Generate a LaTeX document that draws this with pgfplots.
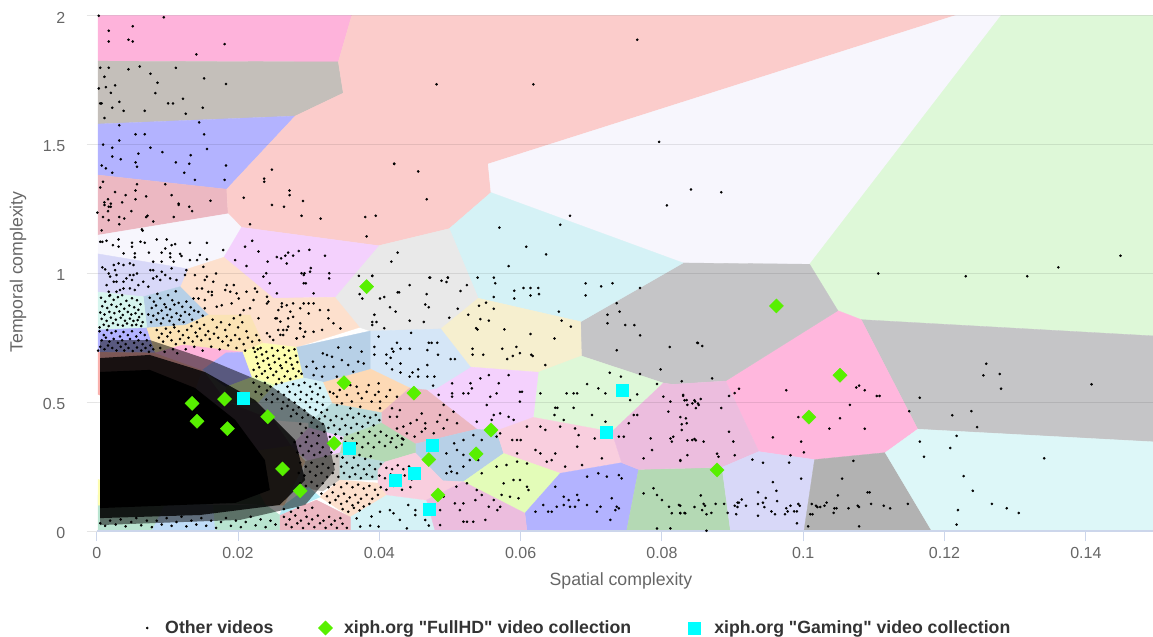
\documentclass[border=0pt]{standalone}
\usepackage{pgfplots}
\pgfplotsset{compat=1.18}
\usepackage{fontspec}
\setmainfont{Liberation Sans}
\newfontfamily\lgf{Liberation Sans}
\definecolor{ca}{HTML}{FEB3DB}\definecolor{cb}{HTML}{C4BFBA}\definecolor{cc}{HTML}{B3B3FF}\definecolor{cd}{HTML}{ECB8C2}
\definecolor{ce}{HTML}{FBCCCB}\definecolor{cf}{HTML}{F7F6FD}\definecolor{cg}{HTML}{DEF8D8}\definecolor{ch}{HTML}{C5C5C7}
\definecolor{ci}{HTML}{FFB7DD}\definecolor{cj}{HTML}{D5F2F6}\definecolor{ck}{HTML}{E9E9E9}\definecolor{cl}{HTML}{F6EFCF}
\definecolor{cm}{HTML}{F4D1FD}\definecolor{cn}{HTML}{D5E6F7}\definecolor{co}{HTML}{FDD9B5}\definecolor{cp}{HTML}{B7D0E7}
\definecolor{cq}{HTML}{F9CEDE}\definecolor{cr}{HTML}{E3FCB8}\definecolor{cs}{HTML}{B4D9B4}\definecolor{ct}{HTML}{ECBDDE}
\definecolor{cu}{HTML}{D8D8F8}\definecolor{cv}{HTML}{B2B2B2}\definecolor{cw}{HTML}{DDF7F8}\definecolor{cx}{HTML}{FDE0CD}
\definecolor{cy}{HTML}{FBE3B5}\definecolor{cz}{HTML}{FDFDB0}\definecolor{dt}{HTML}{B8DADA}\definecolor{dc}{HTML}{B5EDF8}
\definecolor{ds}{HTML}{F9B0AC}\definecolor{dm}{HTML}{D6F5EE}\definecolor{dg}{HTML}{B9E4D0}\definecolor{db}{HTML}{BFDCF8}
\definecolor{ax}{HTML}{CCD6EB}\definecolor{tx}{HTML}{666666}\definecolor{lg}{HTML}{333333}
\definecolor{dia}{HTML}{58F000}\definecolor{sqr}{HTML}{00FFFF}
\newcommand{\reg}[2]{\addplot[fill=#1,draw=#1,line width=.3pt,forget plot] coordinates {#2} --cycle;}
\begin{document}
\begin{tikzpicture}
\useasboundingbox (-96.7bp,-106bp) rectangle (1056.3bp,531bp);
\begin{axis}[at={(0,0)},anchor=south west,scale only axis,width=1056.3bp,height=515.5bp,
 xmin=0,xmax=0.1495,ymin=0,ymax=2,
 axis on top,
 axis x line*=bottom,axis y line*=left,
 y axis line style={draw=none},x axis line style={ax,line width=1.2bp,-},
 xtick={0,0.02,0.04,0.06,0.08,0.1,0.12,0.14},xticklabels={0,0.02,0.04,0.06,0.08,0.1,0.12,0.14},
 ytick={0,0.5,1,1.5,2},yticklabels={0,0.5,1,1.5,2},
 tick align=outside,major tick length=10bp,
 x tick style={ax,line width=1bp},y tick style={black!10,line width=1bp},
 ymajorgrids,y grid style={black,opacity=.09,line width=1bp},
 tick label style={font=\fontsize{16bp}{18bp}\selectfont,text=tx},
 yticklabel style={yshift=-2bp},
 xticklabel shift=2.5bp,yticklabel shift=18bp,
 xlabel={Spatial complexity},ylabel={Temporal complexity},
 label style={font=\fontsize{17.7bp}{19bp}\selectfont,text=tx},
 xlabel style={at={(axis description cs:.4963,0)},anchor=center,yshift=-50bp},
 ylabel style={at={(axis description cs:0,.5024)},anchor=center,yshift=78.7bp},
 legend columns=3,
 legend style={at={(axis description cs:0.0437,0)},anchor=west,yshift=-97bp,draw=none,fill=none,
  font=\fontsize{17.7bp}{19bp}\selectfont\lgf\bfseries,text=lg,/tikz/every even column/.append style={column sep=43bp}},
]
\reg{ca}{(.0002,2)(.0361,2)(.0342,1.820)(.0002,1.823)}
\reg{cb}{(.0002,1.823)(.0342,1.820)(.0349,1.699)(.0281,1.610)(.0002,1.579)}
\reg{cc}{(.0002,1.579)(.0281,1.610)(.0184,1.326)(.0002,1.381)}
\reg{cd}{(.0002,1.381)(.0184,1.326)(.0186,1.231)(.0002,1.148)}
\reg{ce}{(.0361,2)(.1215,2)(.0554,1.424)(.0558,1.313)(.0499,1.173)(.0399,1.107)(.0205,1.178)(.0186,1.231)(.0184,1.326)(.0281,1.610)(.0349,1.699)(.0342,1.820)}
\reg{cf}{(.1215,2)(.1280,2)(.1009,1.035)(.0830,1.040)(.0558,1.313)(.0554,1.424)}
\reg{cg}{(.1280,2)(.1495,2)(.1495,.757)(.1082,.820)(.1049,.855)(.1009,1.035)}
\reg{ch}{(.1082,.820)(.1495,.757)(.1495,.346)(.1162,.395)}
\reg{ci}{(.1049,.855)(.1082,.820)(.1162,.395)(.1116,.304)(.1016,.277)(.0937,.308)(.0890,.582)}
\reg{ch}{(.0830,1.040)(.1009,1.035)(.1049,.855)(.0890,.582)(.0815,.569)(.0802,.574)(.0686,.679)(.0685,.812)}
\reg{cj}{(.0499,1.173)(.0558,1.313)(.0830,1.040)(.0685,.812)(.0540,.903)}
\reg{ck}{(.0399,1.107)(.0499,1.173)(.0540,.903)(.0487,.784)(.0387,.776)(.0372,.790)(.0337,.907)}
\reg{cl}{(.0540,.903)(.0685,.812)(.0686,.679)(.0625,.616)(.0529,.636)(.0487,.784)}
\reg{cg}{(.0625,.616)(.0686,.679)(.0802,.574)(.0729,.385)(.0618,.441)}
\reg{cm}{(.0529,.636)(.0625,.616)(.0618,.441)(.0566,.389)(.0538,.395)(.0467,.547)(.0481,.554)}
\reg{cn}{(.0387,.776)(.0487,.784)(.0529,.636)(.0481,.554)(.0467,.547)(.0443,.555)(.0387,.629)}
\reg{co}{(.0320,.578)(.0387,.629)(.0443,.555)(.0403,.459)(.0333,.495)}
\reg{cd}{(.0443,.555)(.0467,.547)(.0538,.395)(.0451,.338)(.0403,.419)(.0403,.459)}
\reg{cp}{(.0451,.338)(.0538,.395)(.0566,.389)(.0576,.301)(.0519,.191)(.0490,.195)(.0451,.303)}
\reg{cq}{(.0566,.389)(.0618,.441)(.0729,.385)(.0743,.265)(.0656,.224)(.0576,.301)}
\reg{cr}{(.0576,.301)(.0656,.224)(.0606,.069)(.0519,.191)}
\reg{cc}{(.0656,.224)(.0743,.265)(.0767,.239)(.0750,0)(.0609,0)(.0606,.069)}
\reg{cs}{(.0767,.239)(.0885,.247)(.0897,0)(.0750,0)}
\reg{ct}{(.0729,.385)(.0802,.574)(.0815,.569)(.0890,.582)(.0937,.308)(.0885,.247)(.0767,.239)(.0743,.265)}
\reg{cu}{(.0885,.247)(.0937,.308)(.1016,.277)(.1001,0)(.0897,0)}
\reg{cv}{(.1016,.277)(.1116,.304)(.1182,0)(.1001,0)}
\reg{cw}{(.1116,.304)(.1162,.395)(.1495,.346)(.1495,0)(.1182,0)}
\reg{cf}{(.0002,1.148)(.0186,1.231)(.0205,1.178)(.0180,1.062)(.0129,1.017)(.0002,1.075)}
\reg{cm}{(.0205,1.178)(.0399,1.107)(.0337,.907)(.0250,.903)(.0180,1.062)}
\reg{cx}{(.0118,.948)(.0129,1.017)(.0180,1.062)(.0250,.903)(.0337,.907)(.0372,.790)(.0283,.713)(.0235,.729)(.0217,.838)(.0158,.838)}
\reg{cu}{(.0002,1.075)(.0129,1.017)(.0118,.948)(.0066,.909)(.0002,.927)}
\reg{cp}{(.0066,.909)(.0118,.948)(.0158,.838)(.0126,.799)(.0071,.788)}
\reg{dm}{(.0002,.927)(.0066,.909)(.0071,.788)(.0002,.780)}
\reg{cc}{(.0002,.780)(.0071,.788)(.0083,.691)(.0002,.694)}
\reg{cy}{(.0071,.788)(.0126,.799)(.0158,.838)(.0217,.838)(.0235,.729)(.0207,.694)(.0122,.722)(.0083,.691)}
\reg{ds}{(.0002,.694)(.0083,.691)(.0150,.625)(.0120,.40)(.0002,.53)}
\reg{ca}{(.0083,.691)(.0122,.722)(.0207,.694)(.0183,.691)(.0150,.625)}
\reg{cc}{(.0150,.625)(.0183,.691)(.0207,.694)(.0220,.597)(.0183,.559)}
\reg{cz}{(.0207,.694)(.0235,.729)(.0283,.713)(.0293,.594)(.0252,.566)(.0220,.597)}
\reg{cp}{(.0283,.713)(.0387,.776)(.0387,.629)(.0320,.578)(.0293,.594)}
\reg{cr}{(.0183,.559)(.0220,.597)(.0252,.566)(.0230,.50)(.0184,.50)}
\reg{cj}{(.0252,.566)(.0293,.594)(.0320,.578)(.0333,.495)(.0300,.42)(.0250,.43)(.0230,.50)}
\reg{dt}{(.0333,.495)(.0403,.459)(.0403,.419)(.0349,.365)(.0300,.40)(.0300,.42)}
\reg{cs}{(.0349,.365)(.0403,.419)(.0451,.338)(.0451,.303)(.0408,.268)(.0344,.303)}
\reg{cm}{(.0300,.40)(.0349,.365)(.0344,.303)(.0300,.27)(.0275,.33)}
\reg{cb}{(.0295,.27)(.0344,.303)(.0344,.198)(.0320,.155)(.0290,.17)}
\reg{dt}{(.0344,.303)(.0408,.268)(.0398,.198)(.0344,.198)}
\reg{cx}{(.0316,.132)(.0344,.198)(.0398,.186)(.0411,.140)(.0359,.054)}
\reg{cj}{(.0359,.054)(.0411,.140)(.0467,.120)(.0479,0)(.0359,0)}
\reg{cd}{(.0259,.062)(.0311,.120)(.0359,.054)(.0359,0)(.0259,0)}
\reg{cq}{(.0398,.237)(.0408,.268)(.0451,.303)(.0490,.195)(.0519,.191)(.0467,.120)(.0411,.140)(.0398,.186)}
\reg{ct}{(.0467,.120)(.0519,.191)(.0606,.069)(.0609,0)(.0479,0)}
\reg{dc}{(.0265,.10)(.0300,.17)(.0316,.132)(.0259,.062)}
\reg{ct}{(.0120,.40)(.0150,.625)(.0184,.50)(.0250,.43)(.0275,.33)(.0200,.30)}
\reg{cs}{(.0120,.40)(.0200,.30)(.0240,.10)(.0100,.12)}
\reg{co}{(.0200,.30)(.0275,.33)(.0295,.27)(.0265,.10)(.0240,.10)}
\reg{dg}{(.0002,.14)(.0100,.12)(.0078,0)(.0002,0)}
\reg{cz}{(.0002,.20)(.0100,.12)(.0002,.10)}
\reg{db}{(.0078,0)(.0168,0)(.0165,.10)(.0100,.12)}
\reg{dg}{(.0168,0)(.0259,0)(.0259,.062)(.0240,.10)(.0165,.10)}
\addplot[opacity=.5,fill=black,draw=none,forget plot] coordinates {(.0005,.741)(.0075,.741)(.0160,.663)(.0245,.566)(.0323,.411)(.0337,.237)(.0295,.101)(.0203,.043)(.0005,.023)} --cycle;
\addplot[opacity=.8,fill=black,draw=none,forget plot] coordinates {(.0005,.671)(.0075,.683)(.0153,.617)(.0224,.508)(.0281,.353)(.0295,.198)(.0259,.101)(.0146,.062)(.0005,.050)} --cycle;
\addplot[fill=black,draw=none,forget plot] coordinates {(.0005,.617)(.0075,.625)(.0139,.555)(.0196,.431)(.0238,.275)(.0245,.159)(.0196,.109)(.0005,.089)} --cycle;
\addplot[only marks,mark=*,mark size=1.1bp,black,mark options={draw=none,fill=black}] coordinates {
(.0003,1.999)(.0095,1.993)(.0051,1.958)(.0017,1.941)(.0017,1.899)(.0045,1.906)(.0051,1.899)(.0141,1.849)(.0181,1.889)(.0005,1.797)(.0017,1.797)(.0045,1.791)(.0061,1.802)(.0076,1.774)(.0112,1.797)(.0011,1.762)(.0086,1.739)(.0152,1.756)(.0183,1.734)(.0003,1.717)(.0013,1.722)(.0026,1.729)(.0020,1.700)(.0083,1.699)(.0005,1.659)(.0007,1.659)(.0032,1.665)(.0022,1.642)(.0038,1.630)(.0068,1.630)(.0101,1.659)(.0108,1.659)(.0122,1.677)(.0126,1.619)(.0150,1.642)(.0011,1.602)
(.0032,1.574)(.0145,1.585)(.0055,1.539)(.0068,1.539)(.0152,1.539)(.0032,1.515)(.0009,1.499)(.0022,1.487)(.0076,1.487)(.0093,1.470)(.0059,1.464)(.0156,1.482)(.0133,1.458)(.0022,1.453)(.0034,1.442)(.0055,1.430)(.0057,1.413)(.0112,1.430)(.0131,1.425)(.0183,1.418)(.0007,1.418)(.0013,1.407)(.0022,1.390)(.0124,1.390)(.0139,1.362)(.0181,1.362)
(.0009,1.355)(.0005,1.333)(.0057,1.345)(.0097,1.345)(.0026,1.315)(.0055,1.321)(.0041,1.303)(.0106,1.303)(.0016,1.287)(.0055,1.287)(.0070,1.298)(.0161,1.281)(.0011,1.275)(.0020,1.270)(.0036,1.275)(.0116,1.270)(.0116,1.265)(.0131,1.258)(.0011,1.265)(.0017,1.258)(.0020,1.258)(.0001,1.235)(.0016,1.241)(.0049,1.241)(.0135,1.241)(.0072,1.223)(.0070,1.218)(.0009,1.218)(.0032,1.218)(.0039,1.212)(.0109,1.218)(.0017,1.206)(.0080,1.201)(.0032,1.190)(.0007,1.166)(.0064,1.170)(.0065,1.165)
(.0248,1.402)(.0237,1.367)(.0237,1.355)(.0273,1.321)(.0273,1.303)(.0208,1.293)(.0292,1.280)(.0248,1.265)(.0265,1.258)(.0290,1.223)(.0317,1.212)(.0380,1.218)(.0395,1.223)(.0217,1.190)(.0382,1.143)(.0421,1.425)
(.0765,1.906)(.0481,1.733)(.0618,1.733)(.0796,1.510)(.0421,1.424)(.0455,1.395)(.0467,1.287)(.0841,1.325)(.0884,1.314)(.0807,1.263)(.0670,1.223)(.0656,1.188)(.0570,1.177)(.0608,1.103)(.0636,1.073)(.0583,1.028)(.0426,1.080)(.0417,1.045)(.0471,.983)(.0497,.983)(.0539,.983)(.0562,.983)(.1106,.999)(.1230,.988)(.1317,.988)(.1361,1.023)(.1449,1.068)
(.0851,.729)(.0857,.718)(.0871,.592)(.0828,.581)(.0909,.552)(.0903,.535)(.0895,.524)(.0976,.546)(.1075,.557)(.1079,.564)(.1087,.546)(.1104,.524)(.1108,.524)(.1165,.517)(.1066,.489)(.1150,.465)(.1211,.449)(.1238,.465)(.1246,.403)(.1259,.649)(.1278,.609)(.1255,.604)(.1280,.552)(.1408,.569)(.0993,.442)(.1052,.437)(.1037,.397)(.1087,.397)(.0957,.363)(.0997,.347)(.1001,.305)(.0982,.294)(.0980,.265)(.0943,.265)(.0928,.277)(.1071,.272)(.1165,.347)(.1217,.369)(.1208,.322)(.1171,.288)(.1341,.282)(.1227,.213)(.1240,.156)(.1267,.105)(.1288,.088)(.1305,.070)(.1219,.081)(.1217,.025)
(.1055,.203)(.0997,.203)(.0957,.190)(.0962,.156)(.0936,.150)(.0947,.128)(.0963,.116)(.0943,.110)(.0936,.105)(.0913,.122)(.0909,.110)(.0907,.110)(.0903,.098)(.0907,.093)(.0919,.098)(.0945,.093)(.0976,.088)(.0982,.098)(.0993,.105)(.0995,.098)(.0978,.076)(.0987,.076)(.0991,.076)(.0955,.076)(.0960,.065)(.0974,.065)(.0936,.059)(.0905,.065)(.0991,.030)
(.1012,.105)(.1018,.098)(.1020,.093)(.1024,.093)(.1030,.098)(.1033,.110)(.1049,.138)(.1044,.088)(.1047,.088)(.1064,.088)(.1043,.070)(.1010,.065)(.1013,.065)(.1007,.018)(.1079,.018)(.1077,.098)(.1079,.093)(.1091,.150)(.1094,.150)(.1096,.105)(.1114,.098)(.1123,.088)(.1148,.105)
(.0830,.524)(.0832,.507)(.0836,.489)(.0843,.495)(.0846,.507)(.0851,.495)(.0855,.512)(.0848,.477)(.0884,.477)(.0826,.442)(.0834,.437)(.0828,.414)(.0895,.385)(.0836,.352)(.0846,.357)(.0848,.352)(.0859,.347)(.0901,.347)(.0878,.300)(.0880,.288)(.0836,.294)(.0903,.294)(.0826,.272)
(.0855,.138)(.0826,.098)(.0846,.093)(.0859,.105)(.0861,.098)(.0876,.105)(.0888,.105)(.0857,.081)(.0870,.070)(.0863,.065)(.0832,.070)(.0826,.070)(.0893,.070)(.0863,.001)
(.0564,.961)(.0692,.961)(.0714,.949)(.0730,.961)(.0692,.914)(.0591,.932)(.0604,.943)(.0614,.943)(.0625,.943)(.0626,.919)(.0614,.914)(.0591,.902)(.0562,.908)(.0769,.943)
(.0736,.884)(.0740,.851)(.0723,.839)(.0723,.806)(.0748,.799)(.0761,.799)(.0769,.759)(.0811,.714)(.0850,.730)(.0736,.701)(.0798,.627)(.0769,.609)
(.0390,.989)(.0372,.919)(.0376,.902)(.0401,.902)(.0407,.908)(.0426,.926)(.0428,.926)(.0443,.954)(.0472,.983)(.0488,.971)(.0495,.966)(.0497,.983)(.0515,.931)(.0524,.954)(.0467,.919)(.0415,.868)(.0423,.851)(.0465,.879)(.0470,.868)(.0511,.862)(.0393,.839)(.0390,.811)(.0396,.811)(.0390,.799)(.0407,.787)(.0443,.816)(.0463,.811)(.0499,.827)
(.0541,.874)(.0551,.886)(.0562,.862)(.0526,.839)(.0543,.822)(.0555,.816)(.0658,.816)(.0671,.793)(.0654,.851)(.0537,.787)(.0539,.782)(.0577,.782)(.0614,.764)(.0648,.747)(.0532,.707)(.0532,.684)(.0574,.707)(.0594,.714)(.0599,.690)(.0589,.679)(.0581,.667)(.0615,.684)(.0617,.679)(.0547,.684)(.0635,.644)
(.0399,.754)(.0393,.714)(.0393,.684)(.0418,.707)(.0425,.730)(.0430,.707)(.0410,.684)(.0416,.672)(.0420,.696)(.0443,.707)(.0445,.769)(.0470,.730)(.0474,.730)(.0482,.730)(.0468,.702)(.0483,.684)(.0501,.667)(.0507,.667)(.0410,.650)(.0418,.627)(.0430,.650)(.0468,.644)(.0455,.627)(.0447,.615)(.0430,.615)(.0443,.599)(.0455,.599)(.0468,.599)(.0478,.599)(.0476,.564)
(.0320,.689)(.0342,.712)(.0359,.712)(.0375,.696)(.0306,.657)(.0326,.683)(.0333,.676)(.0347,.663)(.0370,.657)(.0297,.637)(.0311,.631)(.0322,.637)(.0335,.637)(.0356,.644)(.0378,.650)(.0307,.605)(.0319,.599)(.0340,.599)(.0363,.618)
(.0330,.540)(.0344,.547)(.0359,.566)(.0368,.560)(.0385,.566)(.0399,.573)(.0340,.521)(.0354,.528)(.0370,.534)(.0382,.540)(.0399,.540)(.0415,.547)(.0347,.495)(.0361,.502)(.0375,.515)(.0389,.502)(.0401,.502)(.0410,.521)(.0425,.521)(.0359,.476)(.0373,.482)(.0394,.528)(.0340,.489)(.0335,.534)(.0401,.476)
(.0418,.476)(.0425,.443)(.0415,.443)(.0429,.469)(.0460,.456)(.0484,.528)(.0491,.489)(.0505,.463)(.0444,.418)(.0453,.431)(.0465,.418)(.0434,.405)(.0439,.379)(.0450,.366)(.0460,.385)(.0465,.398)(.0482,.424)(.0496,.431)(.0491,.398)(.0510,.418)(.0477,.379)(.0425,.398)(.0432,.359)(.0486,.450)
(.0503,.573)(.0529,.573)(.0531,.553)(.0503,.534)(.0503,.521)(.0519,.534)(.0543,.592)(.0555,.605)(.0569,.573)(.0583,.605)(.0599,.540)(.0602,.540)(.0566,.534)(.0557,.521)(.0552,.489)(.0599,.502)(.0559,.431)(.0562,.450)(.0583,.443)(.0590,.431)(.0538,.424)(.0571,.456)(.0526,.534)
(.0628,.534)(.0665,.534)(.0675,.534)(.0680,.534)(.0694,.570)(.0726,.614)(.0742,.599)(.0710,.553)(.0793,.570)(.0765,.530)(.0755,.508)(.0649,.478)(.0652,.478)(.0648,.450)(.0675,.478)(.0701,.450)(.0661,.431)(.0720,.534)(.0720,.424)(.0760,.450)(.0765,.450)(.0812,.502)(.0835,.508)(.0847,.502)(.0852,.489)
(.0571,.379)(.0588,.353)(.0595,.353)(.0600,.353)(.0609,.405)(.0628,.405)(.0635,.392)(.0656,.405)(.0677,.398)(.0705,.359)(.0682,.372)(.0680,.327)(.0595,.301)(.0621,.314)(.0628,.301)(.0649,.301)(.0644,.275)(.0637,.269)(.0663,.250)(.0687,.256)(.0715,.282)
(.0540,.275)(.0545,.224)(.0566,.250)(.0580,.256)(.0595,.269)(.0609,.262)(.0576,.185)(.0590,.198)(.0599,.198)(.0609,.172)(.0611,.159)(.0585,.133)(.0597,.127)(.0573,.140)
(.0506,.340)(.0519,.353)(.0533,.372)(.0545,.353)(.0495,.301)(.0510,.314)(.0519,.295)(.0500,.250)(.0495,.224)(.0528,.275)(.0510,.224)(.0519,.250)(.0566,.366)(.0502,.230)
(.0632,.101)(.0639,.075)(.0644,.075)(.0651,.094)(.0661,.101)(.0670,.094)(.0677,.094)(.0694,.101)(.0680,.140)(.0649,.172)(.0661,.133)(.0668,.120)(.0682,.120)(.0713,.094)(.0727,.043)(.0708,.075)(.0736,.094)(.0739,.088)(.0734,.081)(.0729,.127)(.0710,.224)(.0722,.211)(.0739,.217)(.0743,.204)(.0621,.075)(.0694,.211)
(.0774,.146)(.0788,.166)(.0793,.140)(.0800,.120)(.0810,.094)(.0824,.101)(.0826,.069)(.0833,.069)(.0814,.069)(.0793,.010)(.0812,.010)
(.0809,.463)(.0830,.528)(.0816,.366)(.0814,.347)(.0828,.392)(.0835,.418)(.0753,.418)(.0746,.366)(.0739,.366)(.0784,.359)(.0774,.282)(.0786,.314)(.0826,.275)(.0812,.359)(.0802,.521)(.0843,.353)
(.0486,.081)(.0507,.107)(.0514,.081)(.0519,.107)(.0536,.120)(.0545,.140)(.0555,.094)(.0567,.081)(.0524,.036)(.0533,.036)(.0519,.036)(.0562,.120)(.0509,.172)(.0524,.185)(.0538,.159)(.0550,.043)(.0571,.094)(.0491,.133)(.0486,.023)
(.0368,.049)(.0389,.056)(.0401,.075)(.0415,.081)(.0441,.101)(.0451,.081)(.0451,.062)(.0399,.017)(.0429,.043)(.0465,.043)(.0470,.021)(.0373,.017)(.0387,.021)(.0439,.010)(.0420,.069)
(.0005,1.122)(.0008,1.122)(.0014,1.126)(.0023,1.109)(.0031,1.131)(.0031,1.103)(.0038,1.077)(.0050,1.118)(.0050,1.103)(.0054,1.077)(.0054,1.062)(.0062,1.122)(.0068,1.118)(.0074,1.080)(.0085,1.131)(.0099,1.131)(.0097,1.096)(.0092,1.080)(.0106,1.109)(.0111,1.113)(.0104,1.077)(.0104,1.062)(.0118,1.075)(.0120,1.067)(.0132,1.118)(.0156,1.118)(.0132,1.051)(.0142,1.051)(.0146,1.071)(.0156,1.054)(.0179,1.090)(.0080,1.045)(.0092,1.045)(.0109,1.045)(.0151,1.025)
(.0008,1.023)(.0012,1.015)(.0024,1.032)(.0031,1.038)(.0026,1.012)(.0017,.999)(.0019,.987)(.0028,.993)(.0024,.967)(.0028,.967)(.0014,.954)(.0038,1.032)(.0047,1.038)(.0052,1.032)(.0047,.993)(.0052,.993)(.0057,.999)(.0042,.980)(.0038,.967)(.0050,.974)(.0059,.954)(.0066,.967)(.0076,1.012)(.0080,1.012)(.0092,1.006)(.0097,.993)(.0106,1.019)(.0080,.980)(.0085,.987)(.0090,.974)(.0104,.980)(.0113,.974)(.0127,1.012)(.0125,.993)(.0047,.941)(.0054,.935)(.0038,.941)(.0033,.935)(.0073,.948)(.0017,.928)(.0028,.928)(.0019,.915)
(.0139,.993)(.0153,.974)(.0156,.987)(.0149,.941)(.0142,.941)(.0158,.928)(.0163,.928)(.0165,.967)(.0169,.999)(.0184,.954)(.0194,.954)(.0182,.935)(.0189,.928)(.0198,.922)(.0201,.902)(.0137,.902)(.0144,.902)(.0153,.896)(.0163,.915)(.0170,.870)(.0177,.876)(.0191,.883)(.0212,.928)(.0224,.941)(.0227,.928)(.0241,.909)(.0243,.890)(.0208,.857)(.0203,.838)(.0217,.864)(.0229,.825)(.0253,.825)(.0257,.857)(.0260,.812)(.0271,.825)(.0278,.831)(.0288,.864)(.0293,.883)(.0269,.876)(.0262,.883)(.0257,.780)(.0264,.780)(.0271,.793)(.0288,.786)(.0293,.754)(.0283,.747)(.0260,.761)(.0245,.754)(.0250,.741)(.0241,.767)(.0222,.896)(.0153,.864)
(.0241,.883)(.0255,.825)(.0269,.780)(.0288,.806)(.0300,.844)(.0316,.857)(.0328,.825)(.0328,.857)(.0288,.786)(.0295,.773)(.0307,.773)(.0319,.780)(.0335,.806)(.0345,.786)(.0274,.851)(.0262,.870)(.0278,.883)(.0300,.883)(.0307,.883)(.0264,.760)(.0283,.747)
(.0210,1.103)(.0220,1.126)(.0229,1.084)(.0196,1.051)(.0212,1.028)(.0242,1.045)(.0255,1.063)(.0261,1.058)(.0267,1.068)(.0271,1.080)(.0278,1.068)(.0286,1.086)(.0301,1.091)(.0323,1.068)(.0240,1.0)(.0290,1.0)(.0294,1.0)(.0303,1.02)(.0329,1.0)(.0329,.98)(.0371,.99)(.0390,.99)
(.0293,.993)(.0293,.961)(.0302,1.006)(.0269,1.038)(.0255,.922)(.0307,.922)(.0245,.961)(.0236,.987)(.0296,.961)
(.0006,.905)(.0012,.89)(.0018,.912)(.0024,.897)(.0030,.907)(.0036,.915)(.0042,.893)(.0050,.903)(.0057,.895)(.0062,.88)(.0008,.872)(.0015,.865)(.0021,.878)(.0028,.87)(.0034,.88)(.0039,.862)(.0046,.875)(.0053,.868)(.0059,.858)(.0064,.842)(.0005,.848)(.0011,.84)(.0018,.85)(.0025,.845)(.0032,.852)(.0037,.838)(.0044,.85)(.0049,.84)(.0055,.845)(.0060,.83)(.0007,.823)(.0014,.815)(.0020,.828)(.0027,.82)(.0034,.827)(.0040,.816)(.0047,.824)(.0052,.815)(.0058,.818)(.0065,.81)(.0010,.80)(.0017,.795)(.0023,.806)(.0030,.80)(.0037,.797)(.0043,.805)(.0050,.798)(.0056,.80)(.0063,.795)(.0004,.79)
(.0075,.905)(.0081,.89)(.0086,.92)(.0090,.903)(.0096,.88)(.0101,.915)(.0107,.895)(.0112,.93)(.0078,.865)(.0084,.875)(.0092,.855)(.0098,.868)(.0104,.86)(.0110,.878)(.0116,.885)(.0121,.87)(.0127,.89)(.0133,.868)(.0073,.84)(.0080,.835)(.0087,.845)(.0094,.825)(.0100,.838)(.0106,.83)(.0113,.845)(.0119,.835)(.0125,.85)(.0131,.84)(.0138,.855)(.0144,.85)(.0150,.835)(.0077,.81)(.0085,.82)(.0091,.805)(.0103,.815)(.0109,.80)(.0117,.82)(.0123,.81)(.0135,.82)(.0142,.81)
(.0004,.775)(.0010,.76)(.0015,.78)(.0021,.768)(.0027,.775)(.0033,.755)(.0038,.772)(.0044,.76)(.0050,.775)(.0056,.755)(.0062,.77)(.0068,.76)(.0007,.74)(.0013,.75)(.0018,.735)(.0024,.745)(.0030,.73)(.0036,.74)(.0041,.725)(.0047,.745)(.0053,.73)(.0059,.74)(.0065,.725)(.0071,.74)(.0076,.72)(.0005,.715)(.0011,.705)(.0016,.72)(.0022,.71)(.0028,.70)(.0034,.715)(.0039,.70)(.0045,.71)(.0051,.698)(.0057,.712)(.0063,.70)(.0069,.71)(.0074,.695)(.0080,.705)(.0002,.70)
(.0085,.78)(.0092,.765)(.0098,.785)(.0104,.77)(.0110,.79)(.0116,.775)(.0122,.76)(.0128,.78)(.0134,.795)(.0140,.77)(.0146,.785)(.0152,.80)(.0158,.775)(.0164,.82)(.0170,.79)(.0176,.81)(.0182,.78)(.0188,.80)(.0194,.825)(.0200,.79)(.0206,.81)(.0212,.775)(.0088,.75)(.0094,.735)(.0100,.755)(.0106,.74)(.0112,.725)(.0118,.745)(.0124,.73)(.0130,.75)(.0136,.735)(.0142,.755)(.0148,.74)(.0154,.76)(.0160,.745)(.0166,.765)(.0172,.75)(.0178,.735)(.0184,.755)(.0190,.74)(.0196,.76)(.0202,.745)(.0208,.725)(.0214,.75)(.0220,.735)(.0226,.76)(.0230,.74)(.0090,.71)(.0096,.695)(.0108,.705)(.0114,.69)(.0126,.705)(.0138,.715)(.0150,.70)(.0162,.715)(.0174,.705)(.0186,.72)(.0198,.71)(.0210,.70)(.0222,.71)(.0228,.705)
(.0224,.695)(.0232,.71)(.0240,.695)(.0248,.71)(.0256,.70)(.0264,.712)(.0272,.70)(.0280,.705)(.0226,.675)(.0234,.685)(.0242,.67)(.0250,.68)(.0258,.668)(.0266,.682)(.0274,.67)(.0282,.68)(.0228,.65)(.0236,.66)(.0244,.645)(.0252,.655)(.0260,.642)(.0268,.655)(.0276,.645)(.0284,.655)(.0222,.625)(.0230,.635)(.0238,.62)(.0246,.63)(.0254,.618)(.0262,.632)(.0270,.62)(.0278,.63)(.0286,.62)(.0226,.60)(.0234,.61)(.0242,.595)(.0250,.605)(.0258,.59)(.0266,.60)(.0274,.59)(.0282,.60)(.0290,.61)
(.0222,.575)(.0230,.56)(.0238,.575)(.0246,.56)(.0254,.57)(.0262,.575)(.0270,.56)(.0278,.57)(.0286,.565)(.0294,.575)(.0302,.56)(.0310,.57)(.0316,.555)(.0225,.54)(.0233,.53)(.0241,.545)(.0249,.53)(.0257,.54)(.0265,.528)(.0273,.54)(.0281,.53)(.0289,.54)(.0297,.528)(.0305,.54)(.0313,.53)(.0321,.52)(.0240,.51)(.0248,.50)(.0256,.512)(.0264,.50)(.0272,.51)(.0280,.498)(.0288,.51)(.0296,.50)(.0304,.512)(.0312,.50)(.0320,.49)(.0262,.475)(.0270,.485)(.0278,.47)(.0286,.48)(.0294,.468)(.0302,.48)(.0310,.47)(.0318,.46)(.0326,.47)(.0275,.445)(.0283,.455)(.0291,.44)(.0299,.45)(.0307,.44)(.0315,.435)(.0323,.445)(.0331,.43)(.0339,.445)(.0347,.435)(.0355,.45)(.0363,.44)(.0371,.455)(.0379,.445)(.0387,.44)(.0395,.45)
(.0288,.415)(.0296,.40)(.0304,.42)(.0312,.405)(.0320,.415)(.0328,.40)(.0336,.41)(.0344,.395)(.0352,.41)(.0360,.40)(.0368,.415)(.0376,.405)(.0384,.42)(.0392,.41)(.0400,.43)(.0290,.38)(.0298,.365)(.0306,.38)(.0314,.37)(.0322,.385)(.0330,.365)(.0338,.375)(.0346,.36)(.0354,.375)(.0362,.36)(.0370,.38)(.0378,.365)(.0386,.385)(.0394,.37)(.0402,.385)(.0410,.37)(.0418,.36)(.0426,.37)(.0434,.355)(.0280,.345)(.0288,.33)(.0296,.345)(.0304,.33)(.0312,.34)(.0320,.325)(.0328,.34)(.0340,.33)(.0352,.345)(.0360,.33)(.0368,.34)(.0376,.325)(.0384,.34)(.0392,.325)(.0400,.345)(.0408,.33)(.0416,.345)(.0424,.325)(.0432,.335)(.0284,.305)(.0292,.295)(.0300,.31)(.0308,.295)(.0316,.305)(.0324,.29)(.0332,.305)(.0340,.29)(.0348,.285)(.0356,.30)(.0364,.285)(.0372,.295)(.0380,.28)(.0388,.29)
(.0288,.265)(.0296,.25)(.0304,.265)(.0312,.25)(.0320,.26)(.0328,.245)(.0336,.26)(.0346,.25)(.0354,.265)(.0362,.245)(.0370,.255)(.0378,.24)(.0386,.255)(.0394,.24)(.0402,.26)(.0410,.245)(.0418,.24)(.0426,.255)(.0434,.24)(.0442,.25)(.0286,.225)(.0294,.215)(.0302,.23)(.0310,.215)(.0318,.225)(.0326,.21)(.0334,.225)(.0342,.21)(.0350,.225)(.0358,.21)(.0366,.22)(.0374,.205)(.0382,.22)(.0390,.21)(.0400,.215)(.0408,.205)(.0416,.22)(.0424,.205)(.0436,.215)(.0446,.20)(.0288,.185)(.0296,.175)(.0304,.19)(.0312,.175)(.0320,.185)(.0328,.17)(.0336,.18)(.0346,.17)(.0354,.185)(.0362,.17)(.0370,.18)(.0378,.165)(.0386,.175)(.0394,.16)(.0402,.17)(.0410,.16)(.0420,.175)(.0432,.16)(.0444,.17)
(.0318,.145)(.0326,.135)(.0334,.15)(.0342,.135)(.0350,.145)(.0358,.13)(.0366,.14)(.0374,.125)(.0382,.14)(.0390,.125)(.0398,.14)(.0330,.11)(.0338,.12)(.0346,.105)(.0354,.115)(.0362,.10)(.0370,.11)(.0378,.095)(.0386,.105)(.0348,.085)(.0356,.075)(.0364,.09)(.0372,.08)
(.0265,.055)(.0273,.045)(.0281,.06)(.0289,.04)(.0297,.055)(.0305,.045)(.0313,.06)(.0321,.04)(.0329,.055)(.0337,.04)(.0345,.05)(.0268,.025)(.0276,.015)(.0284,.03)(.0292,.012)(.0300,.028)(.0308,.015)(.0316,.03)(.0324,.012)(.0332,.025)(.0340,.012)(.0348,.028)(.0354,.012)(.0265,.085)(.0275,.075)(.0285,.09)(.0295,.08)(.0305,.09)
(.0005,.03)(.0012,.02)(.0019,.04)(.0027,.025)(.0034,.045)(.0041,.018)(.0049,.035)(.0056,.05)(.0063,.022)(.0071,.04)(.0078,.015)(.0085,.04)(.0092,.025)(.0099,.05)(.0106,.02)(.0113,.035)(.0120,.055)(.0127,.018)(.0134,.04)(.0141,.025)(.0148,.05)(.0155,.02)(.0162,.04)(.0169,.012)(.0176,.035)(.0183,.05)(.0190,.02)(.0197,.04)(.0204,.015)(.0211,.035)(.0218,.055)(.0225,.022)(.0232,.045)(.0239,.015)(.0246,.04)(.0253,.025)
};
\addlegendentry{\rule{15bp}{0pt}Other videos}
\addplot[only marks,mark=square*,mark size=5bp,color=dia,mark options={rotate=45,draw=none,fill=dia}] coordinates {
(.0135,.495)(.0142,.426)(.0181,.512)(.0185,.397)(.0242,.443)(.0263,.241)(.0288,.156)(.0336,.340)(.0350,.575)(.0382,.948)(.0449,.535)(.0558,.392)(.0537,.299)(.0470,.277)(.0483,.140)(.0962,.873)(.1052,.604)(.1008,.442)(.0878,.237)};
\addlegendentry{\rule{9.5bp}{0pt}xiph.org "FullHD" video collection\rule{12bp}{0pt}}
\addplot[only marks,mark=square*,mark size=6bp,color=sqr,mark options={draw=none,fill=sqr}] coordinates {
(.0208,.517)(.0358,.322)(.0422,.198)(.0475,.334)(.0450,.225)(.0470,.085)(.0721,.385)(.0744,.548)};
\addlegendentry{\rule{12bp}{0pt}xiph.org "Gaming" video collection}
\end{axis}
\end{tikzpicture}
\end{document}
